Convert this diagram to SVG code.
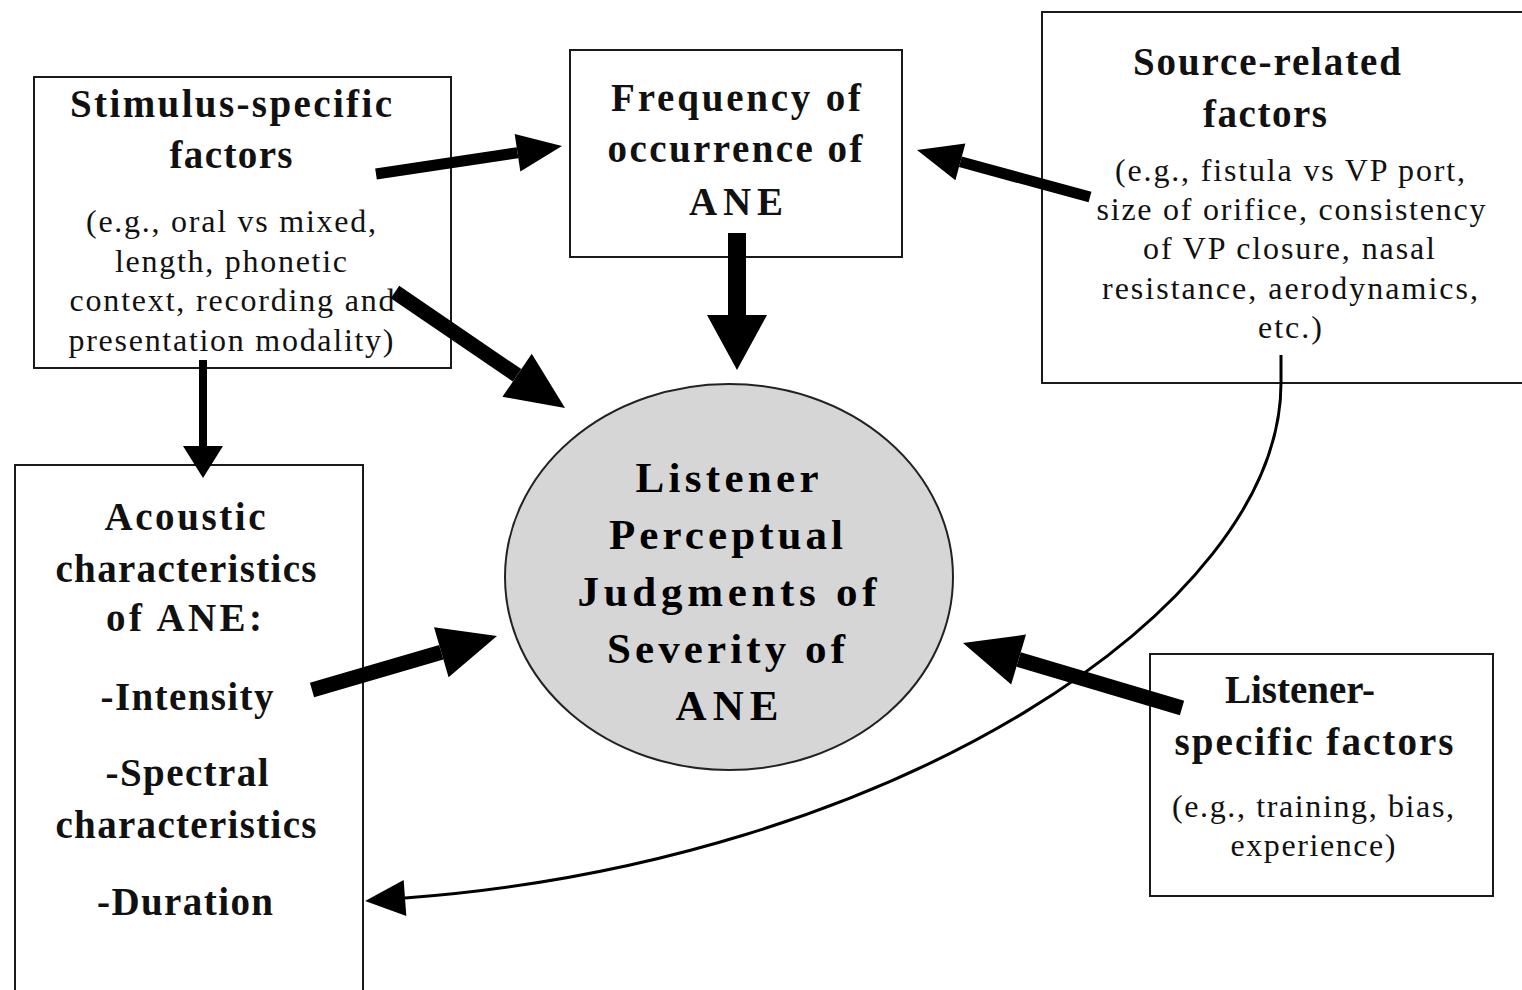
<svg xmlns="http://www.w3.org/2000/svg" width="1522" height="990" viewBox="0 0 1522 990">
<style>
.box{fill:#fff;stroke:#1a1a1a;stroke-width:2}
.t{font-family:"Liberation Serif","Times New Roman",serif;font-weight:bold;font-size:39px;fill:#111;text-anchor:middle}
.b{font-family:"Liberation Serif","Times New Roman",serif;font-size:32px;fill:#111;text-anchor:middle}
.c{font-family:"Liberation Serif","Times New Roman",serif;font-weight:bold;font-size:43px;fill:#000;text-anchor:middle}
.arr{stroke:#000;fill:none;stroke-linecap:butt}
</style>
<defs>
<marker id="hA" markerUnits="userSpaceOnUse" markerWidth="46" markerHeight="40" refX="0" refY="19" orient="auto" overflow="visible"><path d="M0,0 L45,19 L0,38 z" fill="#000"/></marker>
<marker id="hB" markerUnits="userSpaceOnUse" markerWidth="60" markerHeight="54" refX="0" refY="26" orient="auto" overflow="visible"><path d="M0,0 L58,26 L0,52 z" fill="#000"/></marker>
<marker id="hC" markerUnits="userSpaceOnUse" markerWidth="56" markerHeight="62" refX="0" refY="30" orient="auto" overflow="visible"><path d="M0,0 L55,30 L0,60 z" fill="#000"/></marker>
<marker id="hD" markerUnits="userSpaceOnUse" markerWidth="34" markerHeight="42" refX="0" refY="20" orient="auto" overflow="visible"><path d="M0,0 L32,20 L0,40 z" fill="#000"/></marker>
<marker id="hE" markerUnits="userSpaceOnUse" markerWidth="42" markerHeight="38" refX="0" refY="18" orient="auto" overflow="visible"><path d="M0,0 L40,18 L0,36 z" fill="#000"/></marker>
</defs>
<rect width="1522" height="990" fill="#fff"/>

<g id="stimulus">
<rect class="box" x="34" y="77" width="417" height="291"/>
<text class="t" x="231" y="117" textLength="322" lengthAdjust="spacing">Stimulus-specific</text>
<text class="t" x="231" y="168" textLength="123" lengthAdjust="spacing">factors</text>
<text class="b" x="231" y="232" textLength="290" lengthAdjust="spacing">(e.g., oral vs mixed,</text>
<text class="b" x="231" y="272" textLength="232" lengthAdjust="spacing">length, phonetic</text>
<text class="b" x="232" y="311" textLength="325" lengthAdjust="spacing">context, recording and</text>
<text class="b" x="231" y="351" textLength="325" lengthAdjust="spacing">presentation modality)</text>
</g>

<g id="frequency">
<rect class="box" x="570" y="50" width="332" height="207"/>
<text class="t" x="736" y="111" textLength="250" lengthAdjust="spacing">Frequency of</text>
<text class="t" x="735" y="162" textLength="255" lengthAdjust="spacing">occurrence of</text>
<text class="t" x="736" y="215" textLength="94" lengthAdjust="spacing">ANE</text>
</g>

<g id="source">
<rect class="box" x="1042" y="12" width="490" height="371"/>
<text class="t" x="1267" y="75" textLength="268" lengthAdjust="spacing">Source-related</text>
<text class="t" x="1265" y="127" textLength="124" lengthAdjust="spacing">factors</text>
<text class="b" x="1290" y="181" textLength="350" lengthAdjust="spacing">(e.g., fistula vs VP port,</text>
<text class="b" x="1291" y="220" textLength="389" lengthAdjust="spacing">size of orifice, consistency</text>
<text class="b" x="1289" y="259" textLength="292" lengthAdjust="spacing">of VP closure, nasal</text>
<text class="b" x="1290" y="299" textLength="376" lengthAdjust="spacing">resistance, aerodynamics,</text>
<text class="b" x="1290" y="338" textLength="64" lengthAdjust="spacing">etc.)</text>
</g>

<g id="acoustic">
<rect class="box" x="15" y="465" width="348" height="540"/>
<text class="t" x="185" y="530" textLength="161" lengthAdjust="spacing">Acoustic</text>
<text class="t" x="186" y="582" textLength="261" lengthAdjust="spacing">characteristics</text>
<text class="t" x="184" y="631" textLength="156" lengthAdjust="spacing">of ANE:</text>
<text class="t" x="187" y="710" textLength="173" lengthAdjust="spacing">-Intensity</text>
<text class="t" x="187" y="786" textLength="163" lengthAdjust="spacing">-Spectral</text>
<text class="t" x="186" y="838" textLength="261" lengthAdjust="spacing">characteristics</text>
<text class="t" x="185" y="915" textLength="176" lengthAdjust="spacing">-Duration</text>
</g>

<g id="listener">
<rect class="box" x="1150" y="654" width="343" height="242"/>
<text class="t" x="1300" y="703">Listener-</text>
<text class="t" x="1314" y="755" textLength="279" lengthAdjust="spacing">specific factors</text>
<text class="b" x="1313" y="817" textLength="282" lengthAdjust="spacing">(e.g., training, bias,</text>
<text class="b" x="1313" y="856" textLength="165" lengthAdjust="spacing">experience)</text>
</g>

<g id="judgments">
<ellipse cx="729" cy="577" rx="224" ry="193" fill="#d6d6d6" stroke="#222" stroke-width="2"/>
<text class="c" x="727" y="492" textLength="183" lengthAdjust="spacing">Listener</text>
<text class="c" x="726" y="549" textLength="234" lengthAdjust="spacing">Perceptual</text>
<text class="c" x="727" y="606" textLength="299" lengthAdjust="spacing">Judgments of</text>
<text class="c" x="726" y="663" textLength="238" lengthAdjust="spacing">Severity of</text>
<text class="c" x="727" y="720" textLength="103" lengthAdjust="spacing">ANE</text>
</g>

<g id="connectors">
<line class="arr" x1="376" y1="174" x2="517.5" y2="152.7" stroke-width="11" marker-end="url(#hA)"/>
<line class="arr" x1="395" y1="292" x2="517.1" y2="375.3" stroke-width="15" marker-end="url(#hB)"/>
<line class="arr" x1="737" y1="233" x2="737" y2="315" stroke-width="18" marker-end="url(#hC)"/>
<line class="arr" x1="203" y1="360" x2="203" y2="446" stroke-width="8" marker-end="url(#hD)"/>
<line class="arr" x1="1090" y1="197" x2="960.4" y2="161.8" stroke-width="11" marker-end="url(#hA)"/>
<line class="arr" x1="312" y1="690" x2="441.3" y2="652.2" stroke-width="15" marker-end="url(#hB)"/>
<line class="arr" x1="1182" y1="708" x2="1018.6" y2="659.5" stroke-width="15" marker-end="url(#hB)"/>
<path class="arr" d="M1281,355 L1281,383 C1281,610 890,862 405,898" stroke-width="3" marker-end="url(#hE)"/>
</g>
</svg>
